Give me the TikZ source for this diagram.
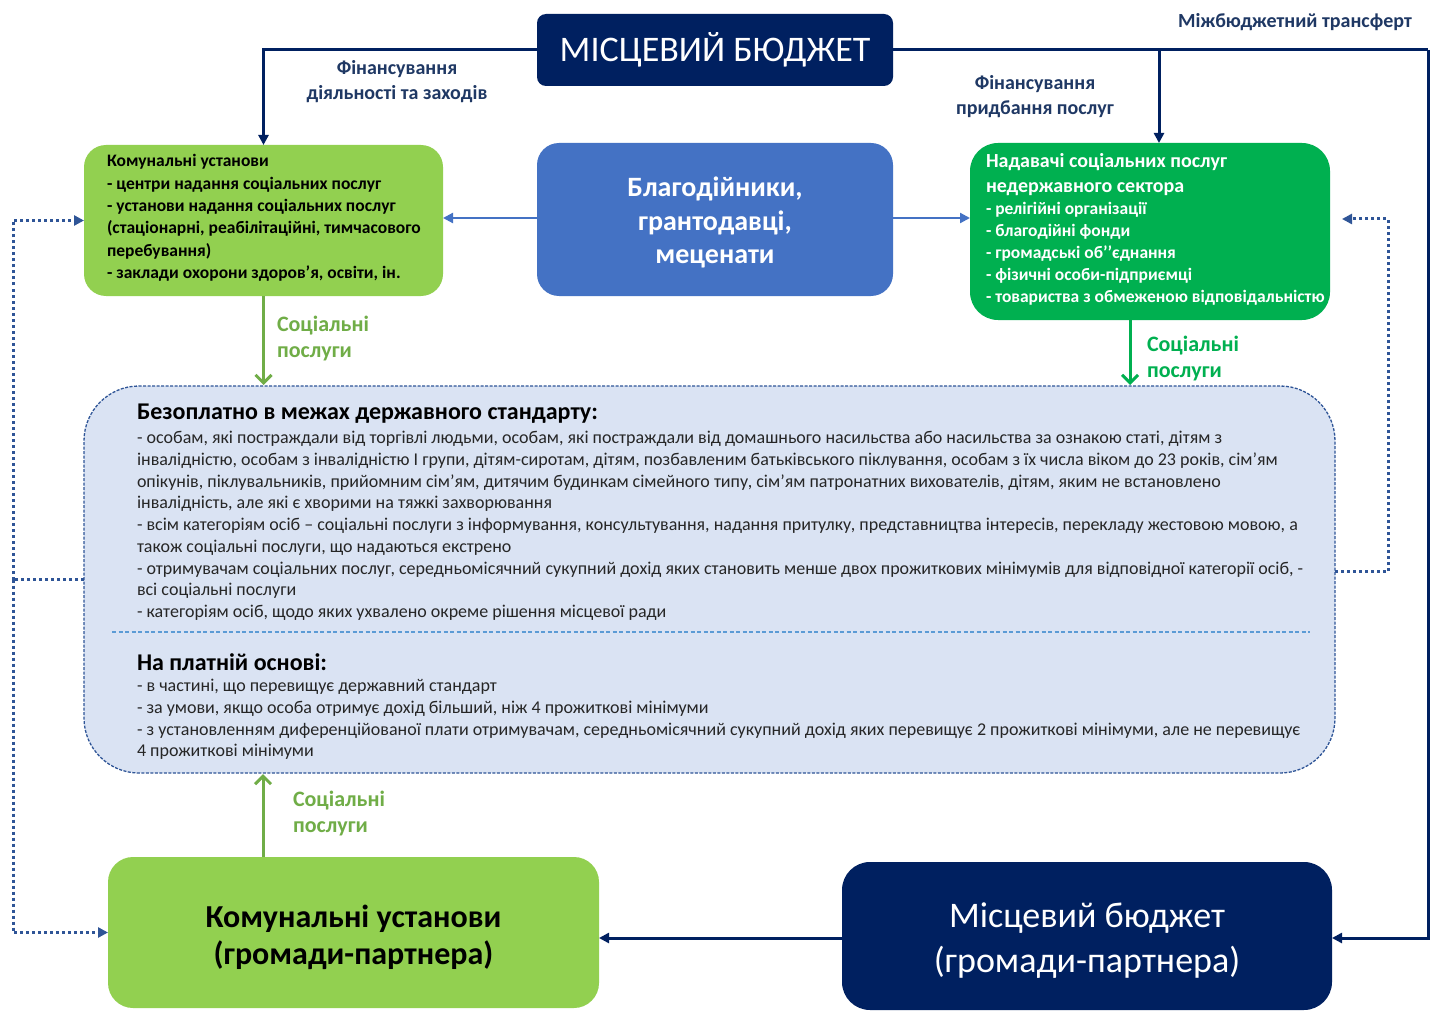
\documentclass[tikz,border=0pt]{standalone}
\usepackage{fontspec}
\setmainfont{Carlito}
\usetikzlibrary{arrows.meta}
\definecolor{navy}{HTML}{002060}
\definecolor{dotblue}{HTML}{2F5597}
\definecolor{lgreen}{HTML}{92D050}
\definecolor{dgreen}{HTML}{00B050}
\definecolor{mblue}{HTML}{4472C4}
\definecolor{pale}{HTML}{DAE3F3}
\definecolor{lbl}{HTML}{1F3864}
\definecolor{sgreen}{HTML}{70AD47}
\definecolor{bodytxt}{HTML}{262626}
\definecolor{sepblue}{HTML}{5B9BD5}
\begin{document}
\begin{tikzpicture}[x=1pt,y=-1pt,
  box/.style={rectangle, inner sep=0pt, outer sep=0pt, draw=none, align=center},
  txt/.style={inner sep=0pt, outer sep=0pt, align=left, anchor=north west},
  ctxt/.style={inner sep=0pt, outer sep=0pt, align=center},
  navyarrow/.style={draw=navy, line width=3pt, -{Triangle[length=10pt,width=10pt]}},
  navyline/.style={draw=navy, line width=3pt},
  bluearrow/.style={draw=mblue, line width=2.2pt, -{Triangle[length=10pt,width=10pt]}},
  greenarrow/.style={line width=3pt, -{Straight Barb[length=8pt,width=16pt]}},
  dotline/.style={draw=dotblue, line width=3pt, dash pattern=on 3pt off 3pt},
  dotarrow/.style={draw=dotblue, line width=3pt, dash pattern=on 3pt off 3pt, -{Triangle[length=10pt,width=10pt]}},
  flabel/.style={inner sep=0pt, align=center, text=lbl, font=\bfseries\fontsize{20}{25}\selectfont},
  slabel/.style={txt, font=\bfseries\fontsize{22}{26}\selectfont}
]
\useasboundingbox[fill=white] (0,0) rectangle (1433,1011);

% boxes
\node[box, fill=navy, rounded corners=9pt, minimum width=356pt, minimum height=72pt,
  text=white, font=\fontsize{36}{40}\selectfont] (budget) at (715,50) {МІСЦЕВИЙ БЮДЖЕТ};
\node[box, fill=lgreen, rounded corners=22pt, minimum width=359pt, minimum height=151pt] (kuL) at (263.5,220.5) {};
\node[box, fill=mblue, rounded corners=22pt, minimum width=356pt, minimum height=153pt] (charity) at (715,219.5) {};
\node[box, fill=dgreen, rounded corners=28pt, minimum width=360pt, minimum height=177pt] (ngo) at (1150,231.5) {};
\node[box, fill=pale, draw=dotblue, line width=1.3pt, dash pattern=on 3pt off 1.5pt, rounded corners=55pt,
  minimum width=1251pt, minimum height=387pt] (big) at (709.5,579.5) {};
\node[box, fill=lgreen, rounded corners=25pt, minimum width=491pt, minimum height=151pt] (kuB) at (353.5,932.5) {};
\node[box, fill=navy, rounded corners=28pt, minimum width=490pt, minimum height=148pt] (budB) at (1087,936) {};

% texts in boxes
\node[ctxt, text=white, font=\bfseries\fontsize{28}{33.5}\selectfont] (charityt) at (715,222.5) {Благодійники,\\грантодавці,\\меценати};
\node[ctxt, text=black, font=\bfseries\fontsize{32}{37}\selectfont] (kuBt) at (353.5,937) {Комунальні установи\\(громади-партнера)};
\node[ctxt, text=white, font=\fontsize{36}{45}\selectfont] (budBt) at (1087,941) {Місцевий бюджет\\(громади-партнера)};

\node[txt, font=\bfseries\fontsize{17.5}{22.4}\selectfont, text=black] (kuLt) at (107,154.4)
{Комунальні установи\\
- центри надання соціальних послуг\\
- установи надання соціальних послуг\\
(стаціонарні, реабілітаційні, тимчасового\\
перебування)\\
- заклади охорони здоров’я, освіти, ін.};

\node[txt, font=\bfseries\fontsize{20}{25}\selectfont, text=white] (ngoT) at (986,153.6)
{Надавачі соціальних послуг\\недержавного сектора};
\node[txt, font=\bfseries\fontsize{17.5}{22}\selectfont, text=white] (ngoI) at (986,202.4)
{- релігійні організації\\
- благодійні фонди\\
- громадські об’’єднання\\
- фізичні особи-підприємці\\
- товариства з обмеженою відповідальністю};

\node[txt, font=\bfseries\fontsize{24}{28}\selectfont, text=black] (freeT) at (137,404.3)
{Безоплатно в межах державного стандарту:};
\node[txt, font=\fontsize{18}{21.75}\selectfont, text=bodytxt] (freeB) at (137,431.2)
{- особам, які постраждали від торгівлі людьми, особам, які постраждали від домашнього насильства або насильства за ознакою статі, дітям з\\
інвалідністю, особам з інвалідністю I групи, дітям-сиротам, дітям, позбавленим батьківського піклування, особам з їх числа віком до 23 років, сім’ям\\
опікунів, піклувальників, прийомним сім’ям, дитячим будинкам сімейного типу, сім’ям патронатних вихователів, дітям, яким не встановлено\\
інвалідність, але які є хворими на тяжкі захворювання\\
- всім категоріям осіб – соціальні послуги з інформування, консультування, надання притулку, представництва інтересів, перекладу жестовою мовою, а\\
також соціальні послуги, що надаються екстрено\\
- отримувачам соціальних послуг, середньомісячний сукупний дохід яких становить менше двох прожиткових мінімумів для відповідної категорії осіб, -\\
всі соціальні послуги\\
- категоріям осіб, щодо яких ухвалено окреме рішення місцевої ради};

\draw[draw=sepblue, line width=1.3pt, dash pattern=on 4pt off 2.5pt] (112,632) -- (1310,632);

\node[txt, font=\bfseries\fontsize{24}{28}\selectfont, text=black] (paidT) at (137,653.3)
{На платній основі:};
\node[txt, font=\fontsize{18}{21.75}\selectfont, text=bodytxt] (paidB) at (137,679.2)
{- в частині, що перевищує державний стандарт\\
- за умови, якщо особа отримує дохід більший, ніж 4 прожиткові мінімуми\\
- з установленням диференційованої плати отримувачам, середньомісячний сукупний дохід яких перевищує 2 прожиткові мінімуми, але не перевищує\\
4 прожиткові мінімуми};

% labels
\node[flabel] (f1) at (397,81.5) {Фінансування\\діяльності та заходів};
\node[flabel] (f2) at (1035,96.5) {Фінансування\\придбання послуг};
\node[flabel] (mt) at (1295,22) {Міжбюджетний трансферт};
\node[slabel, text=sgreen] (s1) at (277,316) {Соціальні\\послуги};
\node[slabel, text=dgreen] (s2) at (1147,336) {Соціальні\\послуги};
\node[slabel, text=sgreen] (s3) at (293,791) {Соціальні\\послуги};

% connectors
\coordinate (tr) at (1428,50);
\coordinate (dl) at (13,579.5);
\coordinate (dr) at (1388,571);
\draw[navyarrow] (budget.west) -| (kuL.north);
\draw[navyline] (budget.east) -- (tr);
\draw[navyarrow] (tr) |- ([yshift=-2pt]budB.east);
\draw[navyarrow] ([xshift=9pt]ngo.north |- budget.east) -- ([xshift=9pt]ngo.north);
\draw[navyarrow] ([yshift=-2pt]budB.west) -- ([yshift=-2pt]budB.west -| kuB.east);

\draw[bluearrow] ([yshift=1.5pt]charity.west) -- ([yshift=1.5pt]charity.west -| kuL.east);
\draw[bluearrow] ([yshift=1.5pt]charity.east) -- ([yshift=1.5pt]charity.east -| ngo.west);

\draw[greenarrow, draw=sgreen] (kuL.south) -- ([yshift=1pt]kuL.south |- big.north);
\draw[greenarrow, draw=dgreen] ([xshift=-20pt]ngo.south) -- ([xshift=-20pt, yshift=1pt]ngo.south |- big.north);
\draw[greenarrow, draw=sgreen] ([xshift=-90.5pt]kuB.north) -- ([xshift=-90.5pt, yshift=-1pt]kuB.north |- big.south);

\draw[dotline] (big.west) -- (dl);
\draw[dotarrow] (dl) |- (kuL.west);
\draw[dotarrow] (dl) |- (kuB.west);
\draw[dotline] (big.east |- dr) -- (dr);
\draw[dotarrow, shorten >=12pt] (dr) |- ([yshift=12.5pt]ngo.east);
\end{tikzpicture}
\end{document}
